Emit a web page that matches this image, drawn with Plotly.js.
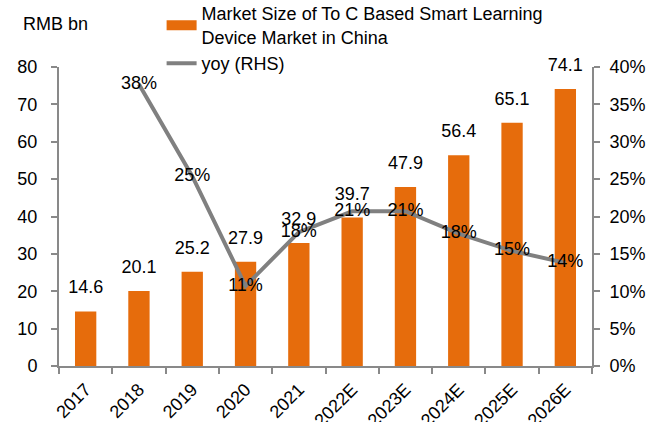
<!DOCTYPE html>
<html>
<head>
<meta charset="utf-8">
<script src="https://cdn.plot.ly/plotly-3.0.1.min.js"></script>
<style>html,body{margin:0;padding:0;background:#fff;}#chart{width:659px;height:422px;}</style>
</head>
<body>
<div id="chart"></div>
<script>
var categories = ["2017","2018","2019","2020","2021","2022E","2023E","2024E","2025E","2026E"];
var marketSize = [14.6, 20.1, 25.2, 27.9, 32.9, 39.7, 47.9, 56.4, 65.1, 74.1];
var yoyYears = ["2018","2019","2020","2021","2022E","2023E","2024E","2025E","2026E"];
var yoy = [0.377, 0.254, 0.107, 0.179, 0.207, 0.207, 0.177, 0.154, 0.138];
var yoyLabels = ["38%","25%","11%","18%","21%","21%","18%","15%","14%"];

var font = "Arial, 'Liberation Sans', sans-serif";
var FS = 18;
var barColor = "#E66C0C";
var lineColor = "#808080";

var traces = [
  {
    type: "bar", x: categories, y: marketSize, showlegend: false,
    marker: {color: barColor}, width: 0.4, hoverinfo: "skip"
  },
  {
    type: "scatter", mode: "markers+text", x: categories, y: marketSize, showlegend: false,
    marker: {size: 20, color: "rgba(0,0,0,0)"},
    text: marketSize.map(function(v){return v.toFixed(1);}),
    textposition: "top center", cliponaxis: false,
    textfont: {family: font, size: FS, color: "#000"}
  },
  {
    type: "scatter", mode: "lines", x: [categories[0]], y: [null],
    name: "Market Size of To C Based Smart Learning<br>Device Market in China",
    line: {color: barColor, width: 10}
  },
  {
    type: "scatter", mode: "lines+text", x: yoyYears, y: yoy, yaxis: "y2",
    name: "yoy (RHS)",
    line: {color: lineColor, width: 4},
    text: yoyLabels, textposition: "middle center",
    textfont: {family: font, size: FS, color: "#000"},
    cliponaxis: false
  }
];

var axisStyle = {
  showline: true, linecolor: "#898989", linewidth: 2,
  ticks: "outside", ticklen: 6, tickcolor: "#898989", tickwidth: 2,
  showgrid: false, zeroline: false, automargin: false,
  tickfont: {family: font, size: FS, color: "#000"}
};
function ax(extra){ var o = JSON.parse(JSON.stringify(axisStyle)); for (var k in extra) o[k] = extra[k]; return o; }

var layout = {
  width: 659, height: 422,
  margin: {l: 59, r: 67, t: 67, b: 56, autoexpand: false},
  paper_bgcolor: "#fff", plot_bgcolor: "#fff",
  font: {family: font, size: FS, color: "#000"},
  showlegend: true,
  legend: {x: 0.1925, y: 1.24, xanchor: "left", yanchor: "top",
           bgcolor: "rgba(0,0,0,0)", borderwidth: 0,
           font: {family: font, size: FS, color: "#000"}, tracegroupgap: 0, itemwidth: 30,
           traceorder: "normal"},
  xaxis: ax({type: "category", range: [-0.5, 9.5], tickangle: -45, tickson: "boundaries", ticklabelstandoff: 4}),
  yaxis: ax({range: [0, 80], dtick: 10, ticklabelstandoff: 10}),
  yaxis2: ax({overlaying: "y", side: "right", range: [0, 0.4], dtick: 0.05, tickformat: ".0%", ticklabelstandoff: 6}),
  annotations: [
    {text: "RMB bn", xref: "paper", yref: "paper", x: -0.072, y: 1.145, xanchor: "left", yanchor: "middle",
     showarrow: false, font: {family: font, size: FS, color: "#000"}}
  ]
};

Plotly.newPlot("chart", traces, layout, {displayModeBar: false, staticPlot: true});
</script>
</body>
</html>
